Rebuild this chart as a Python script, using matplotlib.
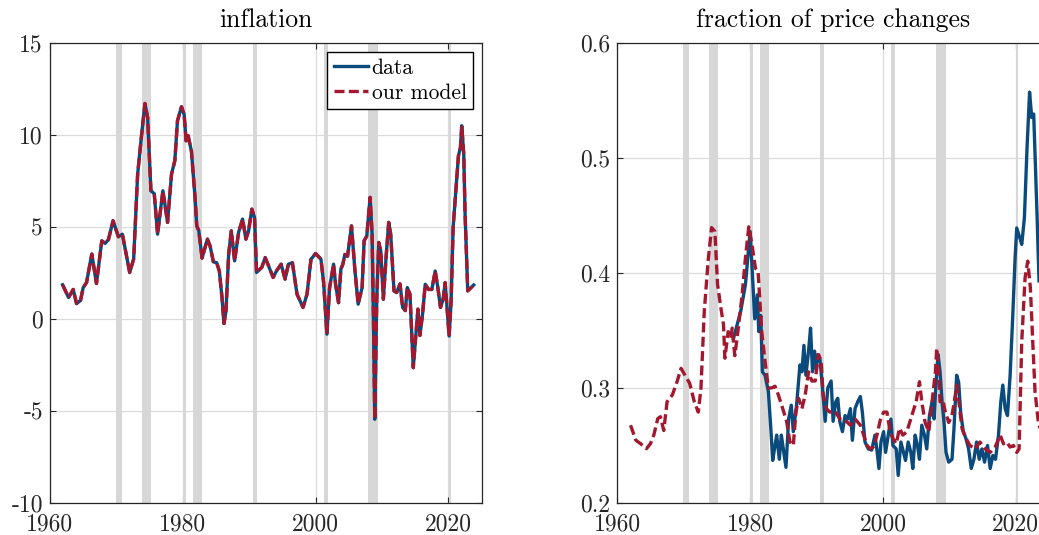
import matplotlib as mpl
mpl.use('Agg')
import matplotlib.pyplot as plt
import numpy as np

# fonte estilo LaTeX / MATLAB
mpl.rcParams['font.family'] = 'cmr10'
mpl.rcParams['mathtext.fontset'] = 'cm'
mpl.rcParams['axes.unicode_minus'] = False

### inflation (data and model overlap)
infl_years = [1961.9, 1962.8, 1963.5, 1964.0, 1964.6, 1965.0, 1965.5, 1966.3, 1967.0, 1967.8,
              1968.3, 1968.8, 1969.5, 1970.3, 1970.9, 1972.0, 1972.6, 1973.2, 1973.7, 1974.3,
              1974.7, 1975.2, 1975.7, 1976.2, 1977.0, 1977.7, 1978.3, 1978.8, 1979.2, 1979.8,
              1980.2, 1980.5, 1980.8, 1981.3, 1981.84, 1982.1, 1982.4, 1982.9, 1983.7, 1984.1,
              1984.6, 1985.1, 1985.5, 1985.9, 1986.2, 1986.5, 1986.9, 1987.3, 1987.8, 1988.4,
              1989.0, 1989.5, 1989.9, 1990.4, 1990.8, 1991.1, 1991.9, 1992.4, 1993.0, 1993.6,
              1994.1, 1994.8, 1995.4, 1995.9, 1996.5, 1997.2, 1998.1, 1998.7, 1999.3, 2000.0,
              2000.8, 2001.2, 2001.7, 2002.1, 2002.7, 2003.0, 2003.45, 2003.8, 2004.1, 2004.4,
              2004.8, 2005.4, 2005.9, 2006.4, 2007.0, 2007.3, 2007.7, 2008.2, 2008.5, 2008.7,
              2008.9, 2009.2, 2009.5, 2009.8, 2010.2, 2010.6, 2011.0, 2011.3, 2011.8, 2012.2,
              2012.7, 2013.1, 2013.5, 2013.8, 2014.2, 2014.7, 2015.1, 2015.4, 2015.7, 2016.1,
              2016.5, 2017.0, 2017.5, 2018.0, 2018.4, 2018.8, 2019.2, 2019.5, 2020.1, 2020.4,
              2020.7, 2021.0, 2021.5, 2021.8, 2022.0, 2022.3, 2022.5, 2022.9, 2023.4, 2023.8]
infl_data = [1.85, 1.16, 1.6, 0.83, 1.0, 1.7, 1.97, 3.52, 1.92, 4.24,
             4.1, 4.3, 5.33, 4.46, 4.6, 2.52, 3.25, 7.86, 9.67, 11.7,
             10.94, 6.96, 6.8, 4.6, 6.96, 5.24, 7.86, 8.59, 10.76, 11.52,
             11.1, 9.67, 9.95, 9.1, 6.6, 5.05, 4.8, 3.3, 4.33, 3.97,
             3.1, 3.05, 2.6, 1.16, -0.25, 0.43, 3.5, 4.78, 3.15, 4.7,
             5.42, 4.33, 4.78, 5.96, 5.5, 2.52, 2.8, 3.33, 2.8, 2.25,
             2.6, 2.97, 2.16, 2.97, 3.05, 1.34, 0.62, 1.34, 3.24, 3.55,
             3.24, 1.97, -0.83, 1.7, 2.97, 1.88, 0.88, 2.7, 2.97, 3.5,
             3.4, 5.05, 2.7, 0.8, 1.7, 4.24, 4.5, 6.6, 4.6, 0.07,
             -5.45, 0.98, 4.15, 3.7, 1.07, 3.33, 5.24, 4.6, 1.52, 1.43,
             1.9, 0.62, 0.45, 1.7, 1.34, -2.65, -0.84, 0.53, -0.9, 0.27,
             1.88, 1.6, 1.6, 2.6, 1.7, 0.62, 1.07, 1.97, -0.93, 0.98,
             4.97, 6.42, 8.86, 9.3, 10.49, 8.95, 5.7, 1.52, 1.7, 1.84]
infl_model = list(infl_data)

### fraction of price changes
frac_data_years = [1977.5, 1978.6, 1979.3, 1980.0, 1980.3, 1980.7, 1981.1, 1981.3, 1981.6, 1981.85,
                   1982.25, 1982.75, 1983.15, 1983.4, 1983.75, 1984.0, 1984.4, 1984.7, 1985.0, 1985.4,
                   1985.8, 1986.2, 1986.5, 1987.0, 1987.5, 1987.8, 1988.1, 1988.4, 1988.8, 1989.1,
                   1989.4, 1989.7, 1989.9, 1990.2, 1990.5, 1990.9, 1991.3, 1991.7, 1992.2, 1992.5,
                   1992.9, 1993.2, 1993.5, 1993.9, 1994.3, 1994.7, 1995.1, 1995.4, 1995.8, 1996.2,
                   1996.6, 1996.9, 1997.3, 1997.8, 1998.3, 1998.8, 1999.1, 1999.4, 1999.7, 2000.1,
                   2000.4, 2000.8, 2001.2, 2001.5, 2002.0, 2002.3, 2002.7, 2003.1, 2003.4, 2003.8,
                   2004.2, 2004.5, 2004.85, 2005.2, 2005.5, 2005.85, 2006.25, 2006.6, 2007.0, 2007.4,
                   2007.7, 2008.0, 2008.3, 2008.6, 2008.9, 2009.2, 2009.5, 2009.9, 2010.4, 2010.7,
                   2011.1, 2011.4, 2011.7, 2012.1, 2012.5, 2012.9, 2013.3, 2013.7, 2014.1, 2014.5,
                   2014.9, 2015.3, 2015.75, 2016.15, 2016.55, 2016.95, 2017.4, 2017.75, 2018.05, 2018.4,
                   2018.75, 2019.15, 2019.55, 2019.9, 2020.15, 2020.6, 2020.9, 2021.3, 2021.7, 2022.08,
                   2022.4, 2022.7, 2023.2, 2023.5]
frac_data = [0.343, 0.367, 0.39, 0.436, 0.404, 0.36, 0.381, 0.349, 0.363, 0.314,
             0.311, 0.297, 0.262, 0.237, 0.25, 0.259, 0.238, 0.259, 0.247, 0.231,
             0.273, 0.285, 0.262, 0.285, 0.32, 0.314, 0.337, 0.311, 0.332, 0.352,
             0.314, 0.332, 0.317, 0.329, 0.326, 0.30, 0.271, 0.30, 0.306, 0.271,
             0.288, 0.291, 0.271, 0.262, 0.276, 0.273, 0.282, 0.2545, 0.282, 0.288,
             0.2925, 0.279, 0.253, 0.247, 0.246, 0.259, 0.246, 0.23, 0.253, 0.262,
             0.244, 0.259, 0.273, 0.25, 0.247, 0.224, 0.253, 0.244, 0.237, 0.253,
             0.244, 0.23, 0.259, 0.25, 0.238, 0.2676, 0.259, 0.247, 0.276, 0.288,
             0.273, 0.305, 0.329, 0.314, 0.288, 0.27, 0.244, 0.2355, 0.238, 0.265,
             0.311, 0.305, 0.279, 0.262, 0.256, 0.247, 0.23, 0.238, 0.253, 0.238,
             0.247, 0.2355, 0.25, 0.23, 0.2413, 0.238, 0.259, 0.288, 0.3025, 0.282,
             0.276, 0.311, 0.363, 0.413, 0.439, 0.4305, 0.4247, 0.448, 0.509, 0.557,
             0.535, 0.538, 0.451, 0.393]

frac_model_years = [1962.0, 1962.8, 1963.5, 1964.4, 1965.0, 1965.5, 1966.1, 1966.5, 1967.0, 1967.5,
                    1968.3, 1969.0, 1969.6, 1970.3, 1970.9, 1971.6, 1972.2, 1972.6, 1973.1, 1973.7,
                    1974.2, 1974.7, 1975.1, 1975.6, 1976.0, 1976.2, 1976.7, 1977.1, 1977.3, 1977.7,
                    1978.1, 1978.8, 1979.3, 1979.8, 1980.3, 1980.8, 1981.2, 1981.75, 1982.25, 1982.75,
                    1983.25, 1983.75, 1984.25, 1984.75, 1985.5, 1986.0, 1986.5, 1986.9, 1987.3, 1987.8,
                    1988.3, 1988.8, 1989.3, 1989.8, 1990.3, 1990.7, 1991.0, 1991.5, 1992.0, 1992.8,
                    1993.5, 1994.3, 1995.1, 1995.8, 1996.6, 1997.1, 1997.6, 1998.1, 1998.6, 1999.1,
                    1999.6, 2000.1, 2000.6, 2001.08, 2001.5, 2002.0, 2002.5, 2003.0, 2003.6, 2004.35,
                    2005.0, 2005.5, 2005.85, 2006.35, 2006.9, 2007.4, 2007.9, 2008.1, 2008.4, 2008.6,
                    2009.0, 2009.4, 2009.9, 2010.4, 2010.9, 2011.1, 2011.5, 2011.9, 2012.4, 2013.1,
                    2013.9, 2014.6, 2015.4, 2016.15, 2016.9, 2017.65, 2018.15, 2018.65, 2019.15, 2019.65,
                    2020.15, 2020.5, 2020.9, 2021.4, 2021.8, 2022.2, 2022.6, 2022.9, 2023.4, 2023.8]
frac_model = [0.2676, 0.2545, 0.2516, 0.2472, 0.2516, 0.259, 0.2734, 0.275, 0.263, 0.288,
              0.294, 0.3054, 0.317, 0.31, 0.304, 0.288, 0.279, 0.2997, 0.3666, 0.4117,
              0.4393, 0.436, 0.3899, 0.3694, 0.3548, 0.3258, 0.3489, 0.343, 0.352, 0.328,
              0.346, 0.381, 0.413, 0.44, 0.424, 0.404, 0.4015, 0.349, 0.323, 0.30,
              0.30, 0.3015, 0.294, 0.285, 0.271, 0.253, 0.25, 0.279, 0.291, 0.282,
              0.294, 0.314, 0.306, 0.306, 0.329, 0.323, 0.294, 0.282, 0.279, 0.28,
              0.273, 0.272, 0.2676, 0.273, 0.2676, 0.259, 0.25, 0.247, 0.249, 0.259,
              0.272, 0.279, 0.279, 0.262, 0.256, 0.2515, 0.265, 0.259, 0.262, 0.276,
              0.288, 0.3054, 0.288, 0.27, 0.262, 0.288, 0.314, 0.3345, 0.311, 0.288,
              0.29, 0.279, 0.27, 0.276, 0.2938, 0.3025, 0.285, 0.265, 0.2574, 0.25,
              0.247, 0.253, 0.247, 0.244, 0.2486, 0.259, 0.2515, 0.253, 0.2486, 0.25,
              0.244, 0.247, 0.3403, 0.3956, 0.4102, 0.387, 0.3345, 0.297, 0.27, 0.262]

# NBER recessions
rec_start = [1969.95, 1973.87, 1980.0, 1981.5, 1990.55, 2001.2, 2007.95, 2020.1]
rec_end = [1970.85, 1975.2, 1980.5, 1982.85, 1991.2, 2001.85, 2009.45, 2020.35]

xticks = [1960, 1980, 2000, 2020]
xtick_labels = ['1960', '1980', '2000', '2020']
infl_yticks = [-10, -5, 0, 5, 10, 15]
infl_ytick_labels = ['-10', '-5', '0', '5', '10', '15']
frac_yticks = [0.2, 0.3, 0.4, 0.5, 0.6]
frac_ytick_labels = ['0.2', '0.3', '0.4', '0.5', '0.6']

azul = '#0b4a7c'
vermelho = '#a3182f'
cinza = '#d7d7d7'
escuro = '#262626'

fig = plt.figure(figsize=(10.39, 5.35), dpi=100)
ax1 = fig.add_axes([0.0481, 0.0598, 0.4155, 0.8604])
ax2 = fig.add_axes([0.5941, 0.0598, 0.4155, 0.8604])


def estilo(ax, title, yticks, ylabels, ylim):
    for a, b in zip(rec_start, rec_end):
        ax.axvspan(a, b, color=cinza, lw=0, zorder=1)
    ax.set_xlim(1960, 2025)
    ax.set_ylim(*ylim)
    ax.set_xticks(xticks)
    ax.set_xticklabels(xtick_labels)
    ax.set_yticks(yticks)
    ax.set_yticklabels(ylabels)
    ax.grid(True, color='#dcdcdc', lw=0.9, zorder=0)
    ax.set_axisbelow(True)
    ax.tick_params(direction='in', length=4, width=0.8, top=True, right=True,
                   labelsize=17, colors=escuro)
    ax.tick_params(axis='x', pad=7.5)
    ax.tick_params(axis='y', pad=5)
    for s in ax.spines.values():
        s.set_color(escuro)
        s.set_linewidth(0.9)
    ax.set_title(title, fontsize=18.5, color='black', pad=11)


estilo(ax1, 'inflation', infl_yticks, infl_ytick_labels, (-10, 15))
ax1.plot(infl_years, infl_data, color=azul, lw=2.4, label='data', zorder=3)
ax1.plot(infl_years, infl_model, color=vermelho, lw=2.4, dashes=(3, 1.3),
         label='our model', zorder=4)
leg = ax1.legend(loc='upper right', bbox_to_anchor=(0.98, 0.98), fontsize=15.5,
                 frameon=True, fancybox=False, edgecolor='black', framealpha=1,
                 handlelength=1.6, handletextpad=0.15, borderpad=0.3,
                 labelspacing=0.25, borderaxespad=0)
leg.get_frame().set_linewidth(1.0)

estilo(ax2, 'fraction of price changes', frac_yticks, frac_ytick_labels, (0.2, 0.6))
ax2.plot(frac_data_years, frac_data, color=azul, lw=2.4, zorder=3)
ax2.plot(frac_model_years, frac_model, color=vermelho, lw=2.4, dashes=(3, 1.3), zorder=4)

plt.savefig('out.png', dpi=100)
plt.close()
